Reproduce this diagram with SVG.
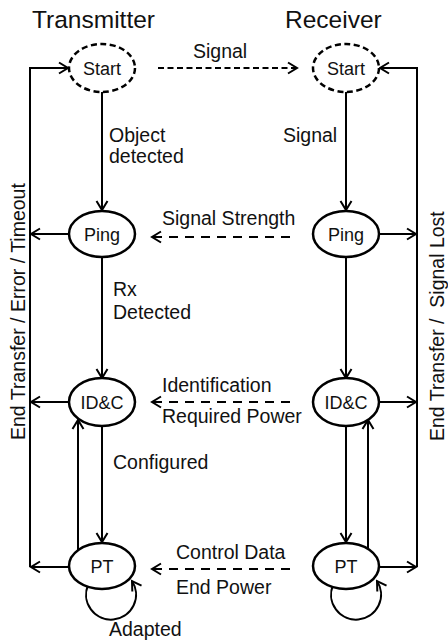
<svg xmlns="http://www.w3.org/2000/svg" width="448" height="642" viewBox="0 0 448 642">
<defs>
<marker id="arr" markerUnits="userSpaceOnUse" markerWidth="14" markerHeight="14" viewBox="-11 -7 14 14" refX="0" refY="0" orient="auto">
<path d="M -9 -5.5 L 0 0 L -9 5.5" fill="none" stroke="#000" stroke-width="2"/>
</marker>
</defs>
<style>
text{font-family:"Liberation Sans",Arial,sans-serif;fill:#111}
.t{font-size:24.5px}
.l{font-size:19.5px}
.n{font-size:18px;text-anchor:middle}
.e{fill:#fff;stroke:#000;stroke-width:2.5}
.d{stroke-dasharray:6 3.5}
.c{fill:none;stroke:#000;stroke-width:2}
.a{marker-end:url(#arr)}
.dd{stroke-dasharray:9 7}
</style>
<text class="t" x="32" y="28">Transmitter</text>
<text class="t" x="285" y="28">Receiver</text>
<g id="connectors">
<path class="c a" d="M30 567 V68 H68"/>
<path class="c a" d="M417 567 V68 H380"/>
<path class="c a" d="M102 92 V210"/>
<path class="c a" d="M346 92 V210"/>
<path class="c a" d="M102 257 V378"/>
<path class="c a" d="M346 257 V378"/>
<path class="c a" d="M102 426 V542"/>
<path class="c a" d="M346 426 V542"/>
<path class="c a" d="M78 550 V420"/>
<path class="c a" d="M368 549 V420"/>
<path class="c a" d="M69 234 H31"/>
<path class="c a" d="M69 402 H31"/>
<path class="c a" d="M69 567 H31"/>
<path class="c a" d="M379 234 H416"/>
<path class="c a" d="M379 402 H416"/>
<path class="c a" d="M379 567 H416"/>
<path class="c a d" d="M158 68 H297"/>
<path class="c a dd" d="M290 237 H152"/>
<path class="c a dd" d="M290 402 H152"/>
<path class="c a dd" d="M290 569 H152"/>
<path class="c a" d="M88 585 A25 25 0 1 0 132 581"/>
<path class="c a" d="M333 585 A25 25 0 1 0 377 581"/>
</g>
<g id="tx-start"><ellipse class="e d" cx="102" cy="68" rx="33" ry="24"/><text class="n" x="102" y="74.5">Start</text></g>
<g id="rx-start"><ellipse class="e d" cx="346" cy="68" rx="33" ry="24"/><text class="n" x="346" y="74.5">Start</text></g>
<g id="tx-ping"><ellipse class="e" cx="102" cy="234" rx="33" ry="23"/><text class="n" x="102" y="240.5">Ping</text></g>
<g id="rx-ping"><ellipse class="e" cx="346" cy="234" rx="33" ry="23"/><text class="n" x="346" y="240.5">Ping</text></g>
<g id="tx-idc"><ellipse class="e" cx="102" cy="402" rx="33" ry="24"/><text class="n" x="102" y="408.5">ID&amp;C</text></g>
<g id="rx-idc"><ellipse class="e" cx="346" cy="402" rx="33" ry="24"/><text class="n" x="346" y="408.5">ID&amp;C</text></g>
<g id="tx-pt"><ellipse class="e" cx="102" cy="566" rx="33" ry="23"/><text class="n" x="102" y="572.5">PT</text></g>
<g id="rx-pt"><ellipse class="e" cx="346" cy="566" rx="33" ry="23"/><text class="n" x="346" y="572.5">PT</text></g>
<g id="labels">
<text class="l" x="193" y="58">Signal</text>
<text class="l" x="109" y="142">Object</text>
<text class="l" x="109" y="163">detected</text>
<text class="l" x="283" y="142">Signal</text>
<text class="l" x="162" y="225">Signal Strength</text>
<text class="l" x="113" y="296">Rx</text>
<text class="l" x="113" y="319">Detected</text>
<text class="l" x="162" y="392">Identification</text>
<text class="l" x="162" y="423">Required Power</text>
<text class="l" x="113" y="469">Configured</text>
<text class="l" x="176" y="559">Control Data</text>
<text class="l" x="176" y="594">End Power</text>
<text class="l" x="109" y="636">Adapted</text>
<text class="l" transform="translate(25 440) rotate(-90)" x="0" y="0">End Transfer / Error / Timeout</text>
<text class="l" transform="translate(444 441) rotate(-90)" x="0" y="0" xml:space="preserve">End Transfer /  Signal Lost</text>
</g>
</svg>
